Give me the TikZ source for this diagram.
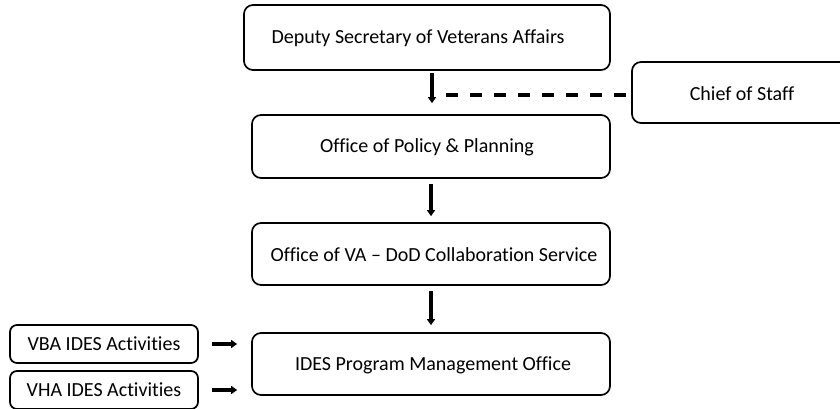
\documentclass[tikz,border=0pt]{standalone}
\usepackage{fontspec}
\setmainfont{Carlito}[Ligatures=NoCommon]
\usetikzlibrary{arrows.meta,calc}
\begin{document}
\begin{tikzpicture}[x=1pt,y=-1pt,
  orgbox/.style={draw,line width=1.7pt,rounded corners=9pt,inner sep=0pt},
  smallbox/.style={draw,line width=1.7pt,rounded corners=7pt,inner sep=0pt},
  lbl/.style={font=\fontsize{20}{23}\selectfont},
  arr/.style={line width=3.4pt,-{Triangle[width=8pt,length=6pt]}},
  dashline/.style={line width=3.2pt,dash pattern=on 12pt off 12pt}]
\useasboundingbox (0,0) rectangle (840,409);
% boxes
\node[orgbox,minimum width=366pt,minimum height=65pt] (d) at (427,37.5) {};
\node[lbl] at (418,38) {Deputy Secretary of Veterans Affairs};
\node[orgbox,minimum width=358pt,minimum height=63pt] (p) at (431,146.5) {};
\node[lbl] at (427,147) {Office of Policy \& Planning};
\node[orgbox,minimum width=358pt,minimum height=62pt] (c) at (431,254) {};
\node[lbl] at (434,255) {Office of VA -- DoD Collaboration Service};
\node[orgbox,minimum width=358pt,minimum height=62pt] (i) at (431,364) {};
\node[lbl] at (433,365) {IDES Program Management Office};
\node[orgbox,minimum width=220pt,minimum height=61pt] (cs) at (742,92.5) {};
\node[lbl] at (742,94) {Chief of Staff};
\node[smallbox,minimum width=188pt,minimum height=38pt] (vba) at (104,344) {};
\node[lbl] at (104,344) {VBA IDES Activities};
\node[smallbox,minimum width=188pt,minimum height=38pt] (vha) at (104,390) {};
\node[lbl] at (104,390) {VHA IDES Activities};
% connectors
\draw[arr] ($(d.south)+(5,2)$) -- ($(p.north)+(1,-11)$);
\draw[arr] ($(p.south)+(0,5)$) -- ($(c.north)+(0,-6)$);
\draw[arr] ($(c.south)+(0,5)$) -- ($(i.north)+(0,-7)$);
\coordinate (j) at (446,95);
\draw[dashline] (j) -- (cs.west |- j);
\draw[arr] ($(vba.east)+(13,0)$) -- ($(vba.east -| i.west)+(-14,0)$);
\draw[arr] ($(vha.east)+(13,0)$) -- ($(vha.east -| i.west)+(-14,0)$);
\end{tikzpicture}
\end{document}
